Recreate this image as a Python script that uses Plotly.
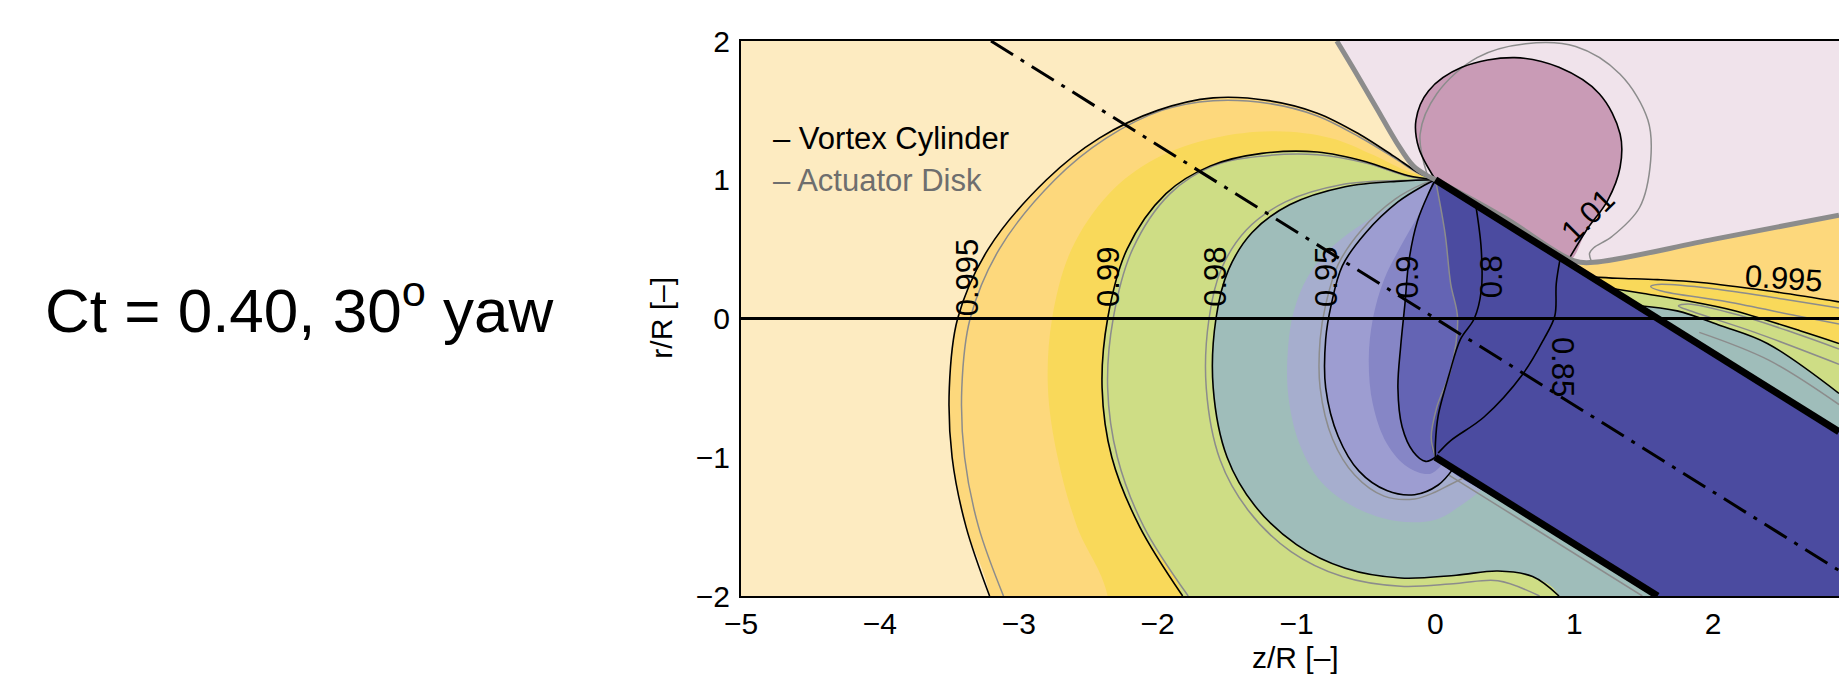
import plotly.graph_objects as go

# ---------------------------------------------------------------- axes extent
Z_MIN, Z_MAX = -5.0, 2.906
R_MIN, R_MAX = -2.0, 2.0

# ---------------------------------------------------------------- wake geometry
WAKE_TOP_Z = [0.0, 2.906]
WAKE_TOP_R = [1.0, -0.816]
WAKE_BOT_Z = [0.0, 1.6]
WAKE_BOT_R = [-1.0, -2.0]
SKEW_AXIS_Z = [-3.2, 2.906]
SKEW_AXIS_R = [2.0, -1.816]

# ---------------------------------------------------------------- u/U0 contours, vortex cylinder (upstream side)
C0995_Z = [-3.21, -3.38, -3.48, -3.50, -3.44, -3.22, -2.80, -2.42, -2.00, -1.60, -1.20, -0.85, -0.55, -0.30, -0.12, 0.0]
C0995_R = [-2.0, -1.5, -1.0, -0.5, 0.0, 0.5, 1.0, 1.3, 1.5, 1.59, 1.57, 1.48, 1.33, 1.17, 1.05, 1.0]

C09925_Z = [-2.36, -2.58, -2.72, -2.79, -2.76, -2.62, -2.35, -2.02, -1.60, -1.15, -0.75, -0.45, -0.20, 0.0]
C09925_R = [-2.0, -1.5, -1.0, -0.5, 0.0, 0.5, 0.9, 1.15, 1.30, 1.35, 1.30, 1.18, 1.06, 1.0]

C099_Z = [-1.82, -2.13, -2.33, -2.40, -2.36, -2.22, -1.94, -1.62, -1.25, -0.85, -0.50, -0.20, 0.0]
C099_R = [-2.0, -1.5, -1.0, -0.5, 0.0, 0.5, 0.9, 1.1, 1.19, 1.20, 1.13, 1.03, 1.0]

C098_Z = [0.89, 0.70, 0.45, 0.15, -0.25, -0.65, -1.00, -1.30, -1.50, -1.60, -1.58, -1.49, -1.32, -1.05, -0.65, -0.25, 0.0]
C098_R = [-2.0, -1.86, -1.82, -1.85, -1.87, -1.80, -1.63, -1.35, -1.0, -0.5, 0.0, 0.35, 0.62, 0.82, 0.95, 0.99, 1.0]

C096_Z = [0.35, 0.18, 0.0, -0.28, -0.58, -0.82, -0.98, -1.06, -1.06, -1.02, -0.92, -0.74, -0.50, -0.25, -0.08, 0.0]
C096_R = [-1.22, -1.35, -1.45, -1.46, -1.36, -1.18, -0.90, -0.55, -0.20, 0.05, 0.30, 0.52, 0.70, 0.85, 0.95, 1.0]

C095_Z = [0.13, 0.02, -0.15, -0.35, -0.55, -0.70, -0.79, -0.79, -0.75, -0.67, -0.50, -0.27, -0.08, 0.0]
C095_R = [-1.08, -1.20, -1.27, -1.24, -1.10, -0.85, -0.50, -0.15, 0.10, 0.38, 0.62, 0.84, 0.96, 1.0]

C0925_Z = [0.06, -0.04, -0.20, -0.35, -0.45, -0.48, -0.45, -0.37, -0.25, -0.12, -0.03, 0.0]
C0925_R = [-1.04, -1.12, -1.07, -0.90, -0.62, -0.30, 0.0, 0.28, 0.52, 0.75, 0.92, 1.0]

C090_Z = [0.0, -0.07, -0.16, -0.24, -0.27, -0.25, -0.22, -0.19, -0.13, -0.05, 0.0]
C090_R = [-1.0, -1.03, -0.96, -0.78, -0.50, -0.20, 0.10, 0.42, 0.70, 0.90, 1.0]

# inner edge of the wake core
CORE_Z = [0.0, 0.01, 0.07, 0.11, 0.16, 0.11, 0.01, -0.03, 0.0]
CORE_R = [1.0, 0.95, 0.61, 0.25, 0.0, -0.37, -0.64, -0.86, -1.0]

C080_Z = [0.29, 0.33, 0.33, 0.28, 0.18, 0.10, 0.02, 0.0, 0.0]
C080_R = [0.82, 0.50, 0.20, 0.0, -0.15, -0.40, -0.70, -0.90, -1.0]

C085_Z = [0.90, 0.87, 0.86, 0.78, 0.63, 0.35, 0.11, 0.02]
C085_R = [0.44, 0.25, 0.02, -0.15, -0.40, -0.71, -0.88, -0.97]

# over-speed bubble above the upper wake edge
C101_Z = [0.0, -0.12, -0.14, -0.05, 0.19, 0.57, 0.89, 1.18, 1.33, 1.33, 1.24, 1.09, 0.95]
C101_R = [1.0, 1.23, 1.43, 1.64, 1.81, 1.88, 1.81, 1.62, 1.33, 1.09, 0.85, 0.64, 0.41]

# u/U0 = 1 separatrix (thick grey)
C100_Z = [-0.71, -0.56, -0.42, -0.28, -0.16, -0.06, 0.0, 0.5, 1.0, 1.14, 2.0, 2.906]
C100_R = [2.0, 1.75, 1.51, 1.27, 1.10, 1.03, 1.0, 0.725, 0.415, 0.405, 0.57, 0.745]

# downstream side, above the wake
C0995R_Z = [1.12, 1.31, 1.60, 1.91, 2.39, 2.906]
C0995R_R = [0.30, 0.29, 0.28, 0.26, 0.20, 0.12]
C099R_Z = [1.25, 1.50, 1.80, 2.14, 2.63, 2.906]
C099R_R = [0.22, 0.18, 0.13, 0.06, -0.09, -0.18]
C098R_Z = [1.45, 1.74, 2.05, 2.39, 2.906]
C098R_R = [0.094, 0.055, -0.05, -0.18, -0.54]

# ---------------------------------------------------------------- actuator disk contours (grey)
AD0995_Z = [-3.11, -3.29, -3.39, -3.41, -3.35, -3.14, -2.74, -2.37, -1.97, -1.60, -1.20, -0.85, -0.55, -0.30, -0.12, 0.0]
AD0995_R = [-2.0, -1.5, -1.0, -0.5, 0.0, 0.5, 1.0, 1.3, 1.5, 1.57, 1.55, 1.46, 1.31, 1.16, 1.045, 1.0]
AD099_Z = [-1.78, -2.10, -2.29, -2.36, -2.32, -2.18, -1.91, -1.60, -1.25, -0.85, -0.50, -0.20, 0.0]
AD099_R = [-2.0, -1.5, -1.0, -0.5, 0.0, 0.5, 0.9, 1.1, 1.17, 1.18, 1.12, 1.025, 1.0]
AD098_Z = [0.75, 0.45, 0.15, -0.25, -0.67, -1.04, -1.35, -1.55, -1.65, -1.63, -1.54, -1.36, -1.08, -0.67, -0.25, 0.0]
AD098_R = [-2.0, -1.89, -1.91, -1.93, -1.86, -1.68, -1.38, -1.02, -0.50, 0.0, 0.36, 0.64, 0.84, 0.965, 0.995, 1.0]
AD095_Z = [0.22, 0.10, 0.0, -0.15, -0.37, -0.58, -0.74, -0.83, -0.83, -0.79, -0.70, -0.53, -0.29, -0.09, 0.0]
AD095_R = [-1.14, -1.20, -1.25, -1.30, -1.28, -1.13, -0.87, -0.50, -0.15, 0.10, 0.39, 0.64, 0.86, 0.97, 1.0]
AD101_Z = [-0.06, -0.11, 0.01, 0.30, 0.65, 1.01, 1.33, 1.53, 1.55, 1.47, 1.27, 1.14, 1.11, 1.12]
AD101_R = [1.04, 1.33, 1.62, 1.88, 1.98, 1.96, 1.76, 1.43, 1.14, 0.80, 0.59, 0.51, 0.47, 0.42]
ADLOW_Z = [0.10, 1.49]
ADLOW_R = [-1.13, -2.0]
AD0995R_Z = [2.906, 2.50, 2.00, 1.60, 1.55, 1.62, 2.10, 2.60, 2.906]
AD0995R_R = [0.075, 0.14, 0.215, 0.245, 0.23, 0.20, 0.12, 0.02, -0.04]
AD099R_Z = [2.906, 2.60, 2.20, 1.82, 1.75, 1.85, 2.30, 2.906]
AD099R_R = [-0.22, -0.11, 0.02, 0.105, 0.09, 0.05, -0.10, -0.33]
AD098R_Z = [1.90, 2.40, 2.906]
AD098R_R = [-0.10, -0.30, -0.62]

# ---------------------------------------------------------------- labels
LABEL_TEXT = ["0.995", "0.99", "0.98", "0.95", "0.9", "0.8", "0.85", "1.01", "0.995"]
LABEL_Z = [-3.37, -2.35, -1.58, -0.78, -0.20, 0.41, 0.92, 1.10, 2.51]
LABEL_R = [0.30, 0.30, 0.30, 0.30, 0.30, 0.30, -0.35, 0.74, 0.29]
LABEL_ANGLE = [-90, -90, -90, -90, -90, -90, 90, -45, 4]

# ---------------------------------------------------------------- colours
CREAM = "#FDEBC1"
PINK_LIGHT = "#F0E3EB"
PINK = "#C99BB6"
ORANGE = "#FDD87C"
YELLOW = "#F9D95A"
GREEN = "#CEDD85"
BLUEGREY = "#9FBDBA"
LAV_LIGHT = "#A6AECE"
LAV = "#9D9DD1"
LAV_MED = "#8686C6"
LAV_DARK = "#6464B4"
WAKE_BLUE = "#4B4BA0"
AD_GREY = "#8C8C8C"

FONT = "Liberation Sans, Arial, Helvetica, sans-serif"

fig = go.Figure()


def fill(z, r, color):
    fig.add_trace(go.Scatter(x=z, y=r, mode="lines", fill="toself", fillcolor=color,
                             line=dict(width=0, shape="spline", smoothing=1.0),
                             hoverinfo="skip", showlegend=False))


def line(z, r, color, width, dash=None, smooth=True):
    fig.add_trace(go.Scatter(x=z, y=r, mode="lines", hoverinfo="skip", showlegend=False,
                             line=dict(color=color, width=width, dash=dash,
                                       shape="spline" if smooth else "linear",
                                       smoothing=1.0)))


# helper vertices that run along the wake edges and outside the frame,
# so the bands close without showing any corner inside the plot
top_edge_z = [1.0, 2.5, 4.0, 8.0]
top_edge_r = [0.375, -0.5625, -1.5, -4.0]


def outer_band(z, r):
    # band bounded by a contour that starts on the lower frame and ends at the rotor tip
    return ([z[0]] + z + top_edge_z + [8.0, z[0]],
            [-3.0] + r + top_edge_r + [-6.0, -6.0])


def inner_band(z, r):
    # band bounded by a contour running from the lower wake edge round to the rotor tip
    return z + [0.9], r + [-0.3]


def above_wake(z, r, z_out, r_out):
    # band above the upper wake edge, closed along that edge
    return z + [z_out, 4.0, 2.0], r + [r_out, -1.5, -0.25]


# region above the u/U0 = 1 separatrix
fill([-0.86] + C100_Z + [4.0, 4.0, -0.86], [2.25] + C100_R + [0.956, 3.0, 3.0], PINK_LIGHT)
fill(C101_Z + [0.5], C101_R + [0.6875], PINK)

# downstream bands above the wake
fill(*above_wake(C100_Z[-4:], [0.375] + C100_R[-3:], 4.0, 0.956), ORANGE)
fill(*above_wake(C0995R_Z, C0995R_R, 4.0, -0.05), YELLOW)
fill(*above_wake(C099R_Z, C099R_R, 4.0, -0.537), GREEN)
fill(*above_wake(C098R_Z, C098R_R, 4.0, -1.30), BLUEGREY)

# upstream bands, outermost first
fill(*outer_band(C0995_Z, C0995_R), ORANGE)
fill(*outer_band(C09925_Z, C09925_R), YELLOW)
fill(*outer_band(C099_Z, C099_R), GREEN)
fill(*outer_band(C098_Z, C098_R), BLUEGREY)
fill(*inner_band(C096_Z, C096_R), LAV_LIGHT)
fill(*inner_band(C095_Z, C095_R), LAV)
fill(*inner_band(C0925_Z, C0925_R), LAV_MED)
fill(*inner_band(C090_Z, C090_R), LAV_DARK)

# wake core, closed along both wake edges outside the frame
fill(CORE_Z + [0.8, 2.4, 4.0, 8.0, 8.0, 4.0, 2.0, 1.0],
     CORE_R + [-1.5, -2.5, -3.5, -6.0, -4.0, -1.5, -0.25, 0.375], WAKE_BLUE)

# actuator disk contour lines
for z, r in [(AD0995_Z, AD0995_R), (AD099_Z, AD099_R), (AD098_Z, AD098_R),
             (AD095_Z, AD095_R), (AD101_Z, AD101_R), (ADLOW_Z, ADLOW_R),
             (AD0995R_Z, AD0995R_R), (AD099R_Z, AD099R_R), (AD098R_Z, AD098R_R),
             (CORE_Z, CORE_R)]:
    line(z, r, AD_GREY, 1.5)

# vortex cylinder contour lines
for z, r in [(C0995_Z, C0995_R), (C099_Z, C099_R), (C098_Z, C098_R),
             (C095_Z, C095_R), (C090_Z, C090_R), (C080_Z, C080_R),
             (C085_Z, C085_R), (C101_Z, C101_R),
             (C0995R_Z, C0995R_R), (C099R_Z, C099R_R), (C098R_Z, C098R_R)]:
    line(z, r, "black", 1.6)

# u/U0 = 1 separatrix
line(C100_Z, C100_R, AD_GREY, 5)

# wake edges, rotor axis and skew axis
line(WAKE_TOP_Z, WAKE_TOP_R, "black", 7, smooth=False)
line(WAKE_BOT_Z, WAKE_BOT_R, "black", 7, smooth=False)
line([Z_MIN, Z_MAX], [0, 0], "black", 3.2, smooth=False)
line(SKEW_AXIS_Z, SKEW_AXIS_R, "black", 3, dash="26px,9px,4px,9px", smooth=False)

annotations = []
for t, z, r, a in zip(LABEL_TEXT, LABEL_Z, LABEL_R, LABEL_ANGLE):
    annotations.append(dict(x=z, y=r, xref="x", yref="y", text=t, showarrow=False,
                            textangle=a, font=dict(family=FONT, size=31, color="black")))

annotations += [
    dict(x=-4.784, y=1.30, xref="x", yref="y", xanchor="left", text="– Vortex Cylinder",
         showarrow=False, font=dict(family=FONT, size=31, color="black")),
    dict(x=-4.784, y=0.995, xref="x", yref="y", xanchor="left", text="– Actuator Disk",
         showarrow=False, font=dict(family=FONT, size=31, color="#6E6E6E")),
    dict(x=0.5046, y=-0.144, xref="paper", yref="paper", text="z/R [–]", showarrow=False,
         font=dict(family=FONT, size=30, color="black")),
    dict(x=-0.090, y=0.5009, xref="paper", yref="paper", text="r/R [–]", showarrow=False,
         textangle=-90, font=dict(family=FONT, size=30, color="black")),
    dict(x=-0.6357, y=0.5225, xref="paper", yref="paper", xanchor="left",
         text="Ct = 0.40, 30<sup>o</sup> yaw", showarrow=False,
         font=dict(family=FONT, size=62, color="black")),
]

fig.update_layout(
    width=1839, height=676,
    margin=dict(l=741, r=0, t=41, b=80),
    paper_bgcolor="white", plot_bgcolor=CREAM,
    showlegend=False,
    annotations=annotations,
    xaxis=dict(range=[Z_MIN, Z_MAX], showgrid=False, zeroline=False, showline=True,
               linecolor="black", linewidth=2, mirror=True, ticks="",
               tickvals=[-5, -4, -3, -2, -1, 0, 1, 2], ticklabelstandoff=0,
               tickfont=dict(family=FONT, size=30, color="black")),
    yaxis=dict(range=[R_MIN, R_MAX], showgrid=False, zeroline=False, showline=True,
               linecolor="black", linewidth=2, mirror=False, ticks="",
               tickvals=[-2, -1, 0, 1, 2], ticklabelstandoff=3,
               tickfont=dict(family=FONT, size=30, color="black")),
)

fig.write_html("out.html")
